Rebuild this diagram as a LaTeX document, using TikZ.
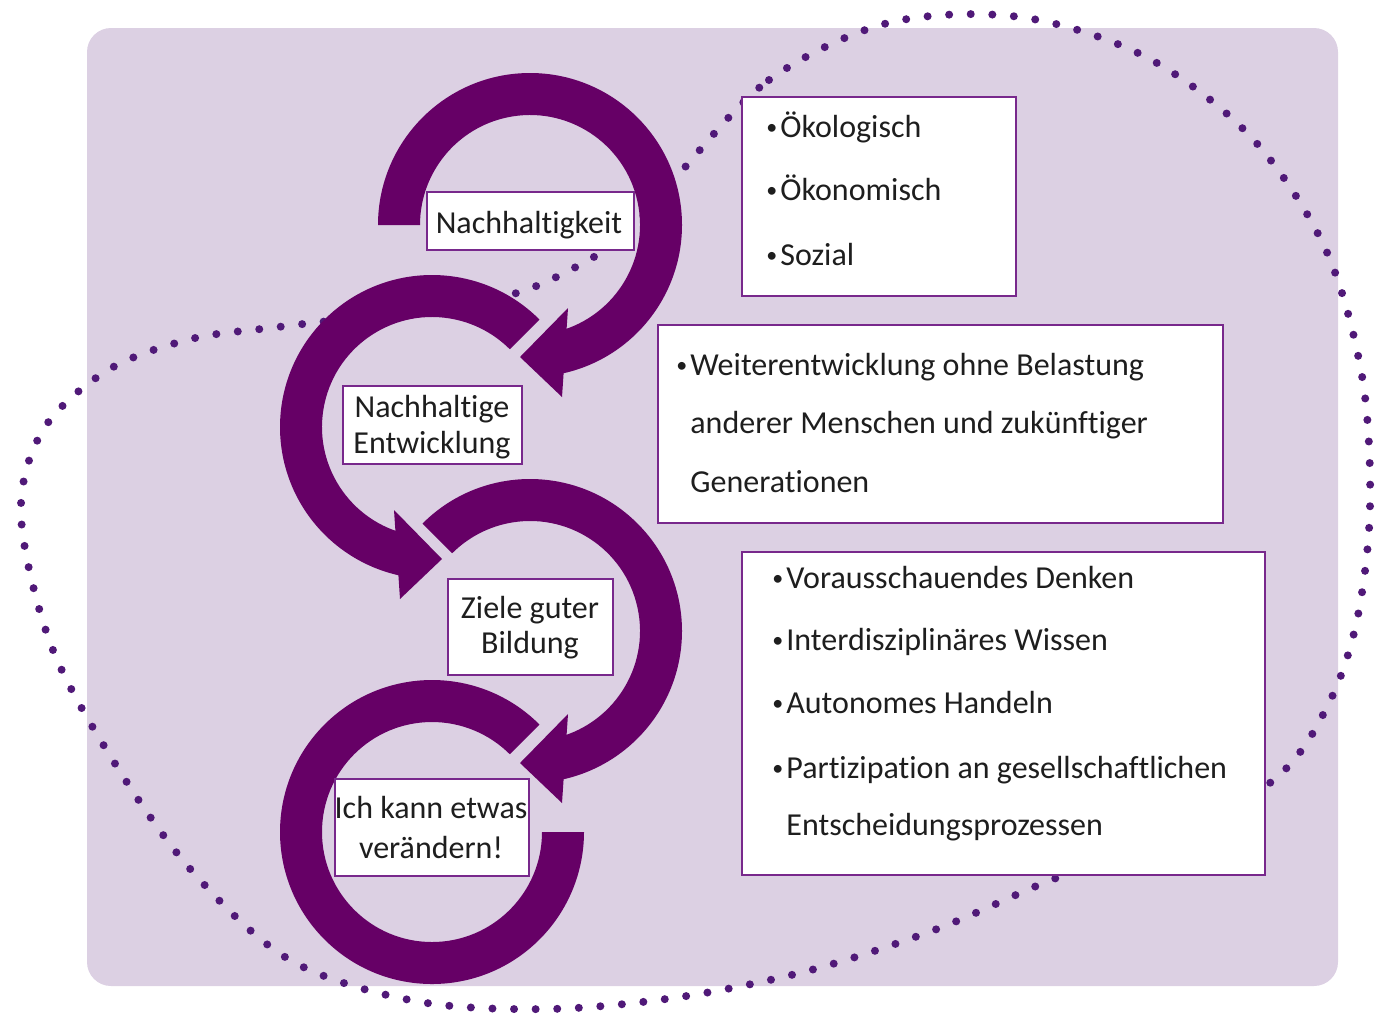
\documentclass[tikz,border=0pt]{standalone}
\usepackage{fontspec}
\setmainfont{Carlito}[Ligatures=NoCommon]
\usetikzlibrary{fit}
\definecolor{bgc}{RGB}{220,208,227}
\definecolor{arrowc}{RGB}{102,0,102}
\definecolor{dotc}{RGB}{80,25,120}
\definecolor{boxc}{RGB}{120,40,140}
\definecolor{txtc}{RGB}{30,30,30}
\newcommand{\bulletmark}{\llap{\raisebox{1.2pt}{\fontsize{11}{11}\selectfont •}\hspace{1.5pt}}}
\begin{document}
\begin{tikzpicture}[x=0.5pt,y=-0.5pt,
  ring/.style={fill=arrowc},
  lbl/.style={draw=boxc, line width=1pt, fill=white, inner sep=0pt},
  txt/.style={text=txtc, font=\fontsize{16}{19}\selectfont, inner sep=0pt},
  dots/.style={draw=dotc, line width=4pt, line cap=round, dash pattern=on 0pt off 10.8pt}
]
\useasboundingbox (0,0) rectangle (1375,1014);
% background panel
\fill[bgc, rounded corners=12pt] (87,28) rectangle (1338,986);

% dotted loop
\draw[dots] plot[smooth cycle, tension=0.55] coordinates {
 (678,175) (769,80) (888,23) (1020,17) (1146,57) (1251,137) (1325,248)
 (1362,376) (1370,507) (1357,620) (1328,705) (1276,778) (1160,848)
 (1059,877) (937,929) (811,970) (680,997) (548,1009) (415,1001) (290,960)
 (192,871) (114,762) (51,645) (21,515) (43,430) (108,370) (191,339)
 (278,327) (420,310) (520,292) (599,254) (635,225)};

% arrow 1
\fill[ring] ([shift={(530,225)}]180:152) arc[start angle=180, end angle=438, radius=152]
  -- ([shift={(530,225)}]438:110) arc[start angle=438, end angle=180, radius=110] -- cycle;
\fill[ring] (568,308) -- (520,357) -- (562,397) -- cycle;
% arrow 2
\fill[ring] ([shift={(432,427)}]-45:152) arc[start angle=-45, end angle=-258, radius=152]
  -- ([shift={(432,427)}]-258:110) arc[start angle=-258, end angle=-45, radius=110] -- cycle;
\fill[ring] (394,510) -- (442,559) -- (400,599) -- cycle;
% arrow 3
\fill[ring] ([shift={(530,631)}]225:152) arc[start angle=225, end angle=438, radius=152]
  -- ([shift={(530,631)}]438:110) arc[start angle=438, end angle=225, radius=110] -- cycle;
\fill[ring] (568,714) -- (520,763) -- (562,803) -- cycle;
% ring 4
\fill[ring] ([shift={(432,832)}]-45:152) arc[start angle=-45, end angle=-360, radius=152]
  -- ([shift={(432,832)}]0:110) arc[start angle=-360, end angle=-45, radius=110] -- cycle;

% label boxes
\node[lbl, fit={(427,192) (634,250)}] (b1) {};
\node[txt, anchor=base] (t1) at (529,233) {Nachhaltigkeit};

\node[lbl, fit={(343,386) (522,464)}] (b2) {};
\node[txt, anchor=base] (t2a) at (432,417) {Nachhaltige};
\node[txt, anchor=base] (t2b) at (432,453) {Entwicklung};

\node[lbl, fit={(448,579) (613,675)}] (b3) {};
\node[txt, anchor=base] (t3a) at (530,618) {Ziele guter};
\node[txt, anchor=base] (t3b) at (530,653) {Bildung};

\node[lbl, fit={(335,779) (529,876)}] (b4) {};
\node[txt, anchor=base] (t4a) at (431,818) {Ich kann etwas};
\node[txt, anchor=base] (t4b) at (431,858) {verändern!};

% bullet boxes
\node[lbl, fit={(742,97) (1016,296)}] (b5) {};
\node[txt, anchor=base west] (t5a) at (780,137) {\bulletmark Ökologisch};
\node[txt, anchor=base west] (t5b) at (780,200) {\bulletmark Ökonomisch};
\node[txt, anchor=base west] (t5c) at (780,265) {\bulletmark Sozial};

\node[lbl, fit={(658,325) (1223,523)}] (b6) {};
\node[txt, anchor=base west] (t6a) at (690,375) {\bulletmark Weiterentwicklung ohne Belastung};
\node[txt, anchor=base west] (t6b) at (690,433) {anderer Menschen und zukünftiger};
\node[txt, anchor=base west] (t6c) at (690,492) {Generationen};

\node[lbl, fit={(742,552) (1265,875)}] (b7) {};
\node[txt, anchor=base west] (t7a) at (786,588) {\bulletmark Vorausschauendes Denken};
\node[txt, anchor=base west] (t7b) at (786,650) {\bulletmark Interdisziplinäres Wissen};
\node[txt, anchor=base west] (t7c) at (786,713) {\bulletmark Autonomes Handeln};
\node[txt, anchor=base west] (t7d) at (786,778) {\bulletmark Partizipation an gesellschaftlichen};
\node[txt, anchor=base west] (t7e) at (786,835) {Entscheidungsprozessen};
\end{tikzpicture}
\end{document}
